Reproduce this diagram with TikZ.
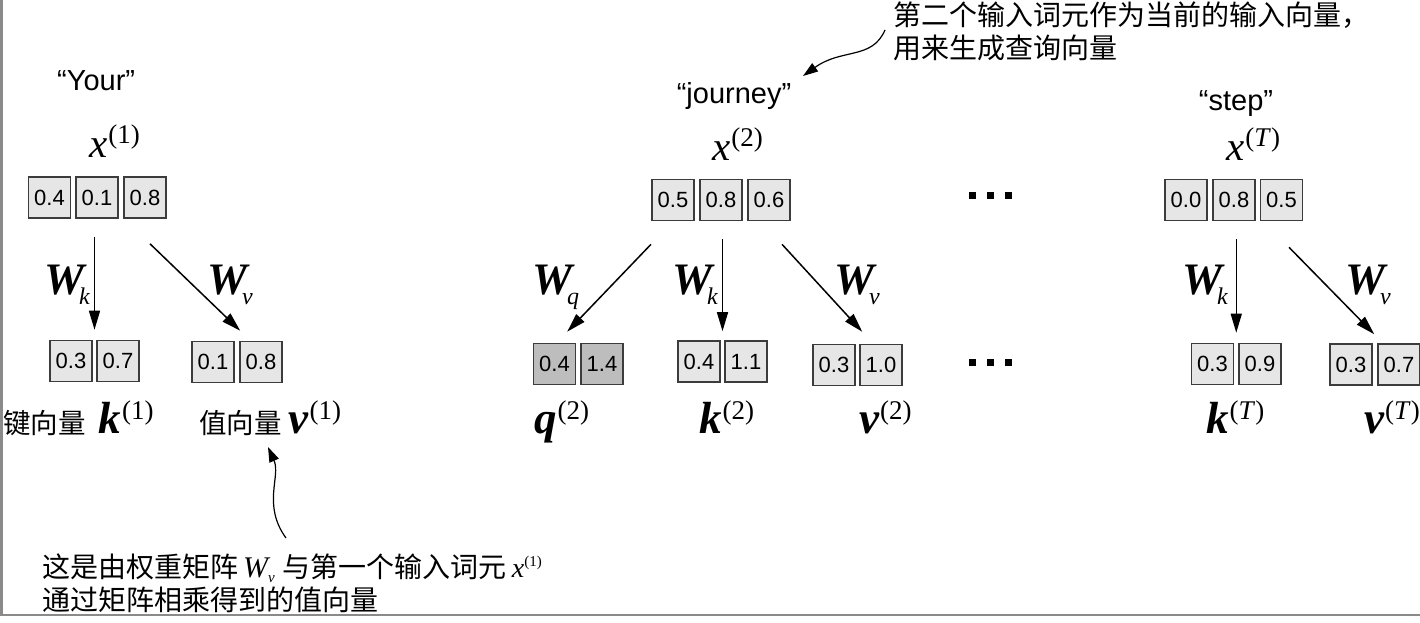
\documentclass[tikz,border=0pt]{standalone}
\usepackage{fontspec}
\setmainfont{Liberation Sans}
\newfontfamily\serifx{Liberation Serif}
\newfontfamily\cjk{Noto Sans CJK SC}
\usetikzlibrary{arrows.meta,calc}
\definecolor{boxline}{HTML}{3C3C3C}
\definecolor{boxfill}{HTML}{E6E6E6}
\definecolor{qfill}{HTML}{BDBDBD}
\definecolor{frame}{HTML}{8A8A8A}
\newcommand\supx[1]{\raisebox{14pt}{\fontsize{27}{27}\selectfont\serifx #1}}
\newcommand\xvar[1]{{\fontsize{41}{41}\selectfont\serifx\itshape x}\kern1pt\supx{#1}}
\newcommand\bvar[2]{{\fontsize{45}{45}\selectfont\serifx\bfseries\itshape #1}\kern1pt\supx{#2}}
\newcommand\wlab[1]{\rlap{\fontsize{45}{45}\selectfont\serifx\bfseries\itshape W}\hspace{35pt}\raisebox{-10pt}{\fontsize{24}{24}\selectfont\serifx\itshape #1}}
\tikzset{
  vbox/.style={draw=boxline, line width=1.6pt, fill=boxfill, minimum width=42pt, minimum height=41pt, inner sep=0pt, font=\fontsize{22}{22}\selectfont},
  qbox/.style={vbox, fill=qfill},
  arr/.style={line width=1.5pt, -{Triangle[length=19pt,width=11pt]}},
  carr/.style={line width=1.2pt, -{Triangle[length=15pt,width=10pt]}},
  lab/.style={anchor=base west, inner sep=0pt},
  word/.style={anchor=base, inner sep=0pt, font=\fontsize{29}{29}\selectfont},
  cjkt/.style={anchor=base west, inner sep=0pt, font=\cjk\fontsize{28}{28}\selectfont}
}
\begin{document}
\begin{tikzpicture}[x=1pt,y=-1pt]
\useasboundingbox (0,0) rectangle (1420,622);
\draw[frame, line width=2.5pt] (1.25,0) -- (1.25,615) -- (1420,615);

% words
\node[lab, font=\fontsize{29}{29}\selectfont] (w1) at (57,90) {“Your”};
\node[word] (w2) at (734,103) {“journey”};
\node[word] (wT) at (1236,110) {“step”};

% x labels
\node[lab] (x1l) at (89,157) {\xvar{(1)}};
\node[lab] (x2l) at (712,160) {\xvar{(2)}};
\node[lab] (xTl) at (1226,160) {\xvar{(\textit{T})}};

% input vectors
\node[vbox] (x1a) at (49.5,197.5) {0.4};
\node[vbox] (x1b) at (97,197.5) {0.1};
\node[vbox] (x1c) at (145,197.5) {0.8};
\node[vbox] (x2a) at (673,200) {0.5};
\node[vbox] (x2b) at (721,200) {0.8};
\node[vbox] (x2c) at (769,200) {0.6};
\node[vbox] (xTa) at (1186,200) {0.0};
\node[vbox] (xTb) at (1234,200) {0.8};
\node[vbox] (xTc) at (1281.5,200) {0.5};

% output vectors
\node[vbox] (k1a) at (71,361) {0.3};
\node[vbox] (k1b) at (118,361) {0.7};
\node[vbox] (v1a) at (213,362) {0.1};
\node[vbox] (v1b) at (261,362) {0.8};
\node[qbox] (q2a) at (554.5,364) {0.4};
\node[qbox] (q2b) at (602,364) {1.4};
\node[vbox] (k2a) at (699,361.5) {0.4};
\node[vbox] (k2b) at (746,361.5) {1.1};
\node[vbox] (v2a) at (834,365) {0.3};
\node[vbox] (v2b) at (881,365) {1.0};
\node[vbox] (kTa) at (1212.5,364) {0.3};
\node[vbox] (kTb) at (1260,364) {0.9};
\node[vbox] (vTa) at (1351,364.5) {0.3};
\node[vbox] (vTb) at (1399,364.5) {0.7};

% arrows
\coordinate (k1m) at ($(k1a.north east)!.5!(k1b.north west)$);
\coordinate (k2m) at ($(k2a.north east)!.5!(k2b.north west)$);
\coordinate (kTm) at ($(kTa.north east)!.5!(kTb.north west)$);
\draw[arr, shorten <=18pt, shorten >=10pt] (k1m |- x1b.south) -- (k1m);
\draw[arr, shorten <=18pt, shorten >=9pt] (k2m |- x2b.south) -- (k2m);
\draw[arr, shorten <=18pt, shorten >=10pt] (kTm |- xTb.south) -- (kTm);
\draw[arr] ($(x1c.south)+(5,25)$) -- ($(v1b.north west)+(1,-10)$);
\draw[arr] ($(x2a.south)+(-22,23)$) -- ($(q2b.north west)+(-13,-11)$);
\draw[arr] ($(x2c.south)+(13,23)$) -- ($(v2b.north west)+(3,-12)$);
\draw[arr] ($(xTc.south)+(7.5,26)$) -- ($(vTb.north west)+(-3,-9)$);

% W labels
\node[lab] (wk1) at (44,294) {\wlab{k}};
\node[lab] (wv1) at (207,294) {\wlab{v}};
\node[lab] (wq2) at (532,294) {\wlab{q}};
\node[lab] (wk2) at (672,294) {\wlab{k}};
\node[lab] (wv2) at (834,294) {\wlab{v}};
\node[lab] (wkT) at (1182,294) {\wlab{k}};
\node[lab] (wvT) at (1345,294) {\wlab{v}};

% output labels
\node[lab] (k1l) at (3,433) {{\cjk\fontsize{27.5}{27.5}\selectfont 键向量}\hspace{13pt}\bvar{k}{(1)}};
\node[lab] (v1l) at (199,433) {{\cjk\fontsize{27.5}{27.5}\selectfont 值向量}\hspace{7pt}\bvar{v}{(1)}};
\node[lab] (q2l) at (534,433) {\bvar{q}{(2)}};
\node[lab] (k2l) at (699,433) {\bvar{k}{(2)}};
\node[lab] (v2l) at (859,433) {\bvar{v}{(2)}};
\node[lab] (kTl) at (1206,433) {\bvar{k}{(\textit{T})}};
\node[lab] (vTl) at (1364,433) {\bvar{v}{(\textit{T})}};

% ellipses
\foreach \yy in {195,362}
  \foreach \xx in {972.5,990.5,1008.5}
    \fill ({\xx-3.5},{\yy-3.5}) rectangle ++(7,7);

% top annotation
\node[cjkt] (ann1) at (893,25) {第二个输入词元作为当前的输入向量，};
\node[cjkt] (ann2) at (893,58) {用来生成查询向量};
\coordinate (a1s) at (885,30);
\coordinate (a1e) at (803,76);
\draw[carr] (a1s) .. controls (872,60) and (842,48) .. (a1e);

% bottom annotation
\node[cjkt] (ann3) at (42,577) {这是由权重矩阵\hspace{5pt}{\serifx\itshape\fontsize{30}{30}\selectfont W}\raisebox{-5pt}{\serifx\itshape\fontsize{15}{15}\selectfont v}\hspace{8pt}与第一个输入词元\hspace{5pt}{\serifx\itshape\fontsize{28}{28}\selectfont x}\raisebox{11pt}{\serifx\fontsize{15}{15}\selectfont (1)}};
\node[cjkt] (ann4) at (42,610) {通过矩阵相乘得到的值向量};
\coordinate (a2s) at (286,538);
\coordinate (a2e) at (268,447);
\draw[carr] (a2s) .. controls (262,505) and (281,476) .. (a2e);
\end{tikzpicture}
\end{document}
